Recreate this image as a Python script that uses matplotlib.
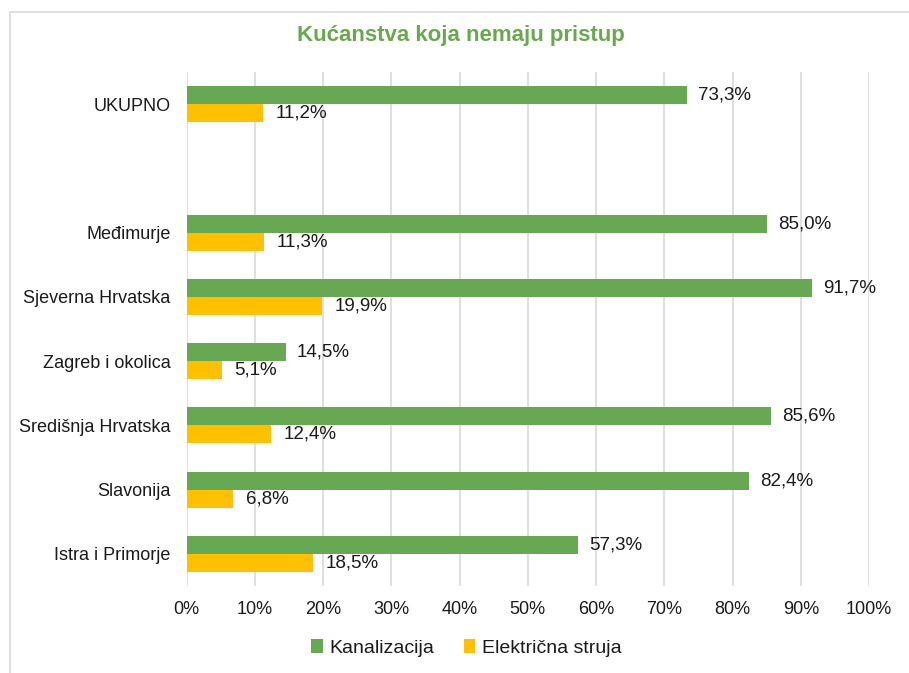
import numpy as np
import matplotlib.pyplot as plt
from matplotlib.patches import Rectangle

plt.rcParams['font.family'] = ['Liberation Sans', 'DejaVu Sans']

# Regions, top to bottom; the empty entry leaves a gap under the total
categories = ["UKUPNO", "", "Međimurje", "Sjeverna Hrvatska", "Zagreb i okolica",
              "Središnja Hrvatska", "Slavonija", "Istra i Primorje"]
kanalizacija = [73.3, np.nan, 85.0, 91.7, 14.5, 85.6, 82.4, 57.3]
struja = [11.2, np.nan, 11.3, 19.9, 5.1, 12.4, 6.8, 18.5]
series_names = ["Kanalizacija", "Električna struja"]
x_ticks = list(range(0, 101, 10))

green = "#67A853"
yellow = "#FFC000"
grid_gray = "#D9D9D9"
text_col = "#1A1A1A"

fig = plt.figure(figsize=(9.09, 6.73), dpi=100)
ax = fig.add_axes([0.2054, 0.1293, 0.7506, 0.7637])

# Outer chart frame
fig.patches.append(Rectangle((9.5 / 909, -0.05), 1.1, 1 - 11.5 / 673 + 0.05,
                             transform=fig.transFigure, fill=False,
                             edgecolor=grid_gray, linewidth=1.2))

y = np.arange(len(categories))
h = 0.28
ax.barh(y - h / 2, kanalizacija, height=h, color=green, label=series_names[0], zorder=3)
ax.barh(y + h / 2, struja, height=h, color=yellow, label=series_names[1], zorder=3)

def fmt(v):
    return f"{v:.1f}".replace(".", ",") + "%"

for yi, v in zip(y, kanalizacija):
    if not np.isnan(v):
        ax.annotate(fmt(v), (v, yi - h / 2), xytext=(8, 0), textcoords="offset points",
                    va="center", ha="left", fontsize=13.5, color=text_col)
for yi, v in zip(y, struja):
    if not np.isnan(v):
        ax.annotate(fmt(v), (v, yi + h / 2), xytext=(9, 0), textcoords="offset points",
                    va="center", ha="left", fontsize=13.5, color=text_col)

ax.set_ylim(len(categories) - 0.5, -0.5)
ax.set_xlim(0, 100)
ax.set_yticks(y)
ax.set_yticklabels(categories, fontsize=13, color=text_col)
ax.set_xticks(x_ticks)
ax.set_xticklabels([f"{t}%" for t in x_ticks], fontsize=13, color=text_col)
ax.tick_params(axis="both", length=0)
ax.tick_params(axis="y", pad=11.5)
ax.tick_params(axis="x", pad=11)
ax.xaxis.grid(True, color=grid_gray, linewidth=1.2, zorder=0)
for s in ax.spines.values():
    s.set_visible(False)

fig.text(0.507, 1 - 35 / 673, "Kućanstva koja nemaju pristup", ha="center", va="center",
         fontsize=16, fontweight="bold", color="#6AA84F")

fig.legend(loc="center", bbox_to_anchor=(0.513, 1 - 648 / 673), ncol=2, frameon=False,
           fontsize=14, handlelength=0.6, handleheight=0.7, handletextpad=0.35,
           columnspacing=1.5, labelcolor=text_col)

fig.savefig("out.png", dpi=100)
